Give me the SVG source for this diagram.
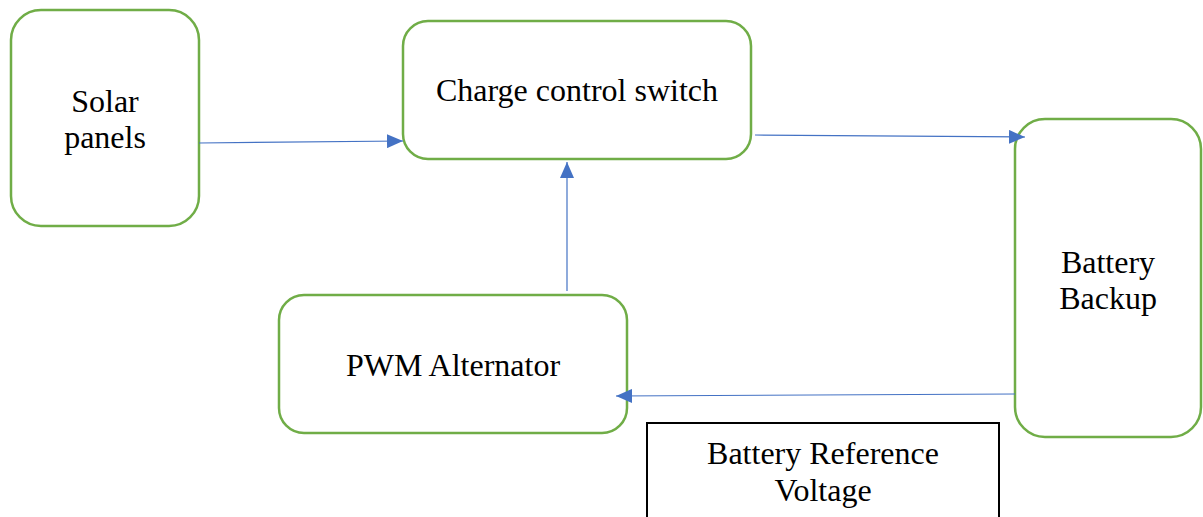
<svg xmlns="http://www.w3.org/2000/svg" width="1203" height="517" viewBox="0 0 1203 517">
<style>
.node{fill:#fff;stroke:#70AD47;stroke-width:2.5}
.box{fill:#fff;stroke:#000;stroke-width:2}
.t{font-family:"Liberation Serif","Times New Roman",serif;font-size:32px;fill:#000;text-anchor:middle}
.c{stroke:#4472C4;stroke-width:1.2;fill:none;marker-end:url(#ah)}
</style>
<defs>
<marker id="ah" markerWidth="16" markerHeight="14" refX="16" refY="7" orient="auto" markerUnits="userSpaceOnUse">
<path d="M0,0 L16,7 L0,14 Z" fill="#4472C4"/>
</marker>
</defs>
<rect width="1203" height="517" fill="#fff"/>
<g id="solar">
<rect class="node" x="11" y="10" width="188" height="216" rx="30"/>
<text class="t" x="105" y="112">Solar</text>
<text class="t" x="105" y="148">panels</text>
</g>
<g id="charge">
<rect class="node" x="403" y="21" width="348" height="138" rx="25"/>
<text class="t" x="577" y="101">Charge control switch</text>
</g>
<g id="battery">
<rect class="node" x="1015" y="119" width="186" height="318" rx="30"/>
<text class="t" x="1108" y="273">Battery</text>
<text class="t" x="1108" y="309">Backup</text>
</g>
<g id="pwm">
<rect class="node" x="279" y="295" width="348" height="138" rx="25"/>
<text class="t" x="453" y="376">PWM Alternator</text>
</g>
<g id="ref">
<rect class="box" x="647" y="423" width="352" height="110"/>
<text class="t" x="823" y="464">Battery Reference</text>
<text class="t" x="823" y="501">Voltage</text>
</g>
<g id="connectors">
<line class="c" x1="199" y1="143" x2="403" y2="141"/>
<line class="c" x1="755" y1="135" x2="1025" y2="137"/>
<line class="c" x1="567" y1="291" x2="567" y2="162"/>
<line class="c" x1="1015" y1="394" x2="616" y2="396"/>
</g>
</svg>
